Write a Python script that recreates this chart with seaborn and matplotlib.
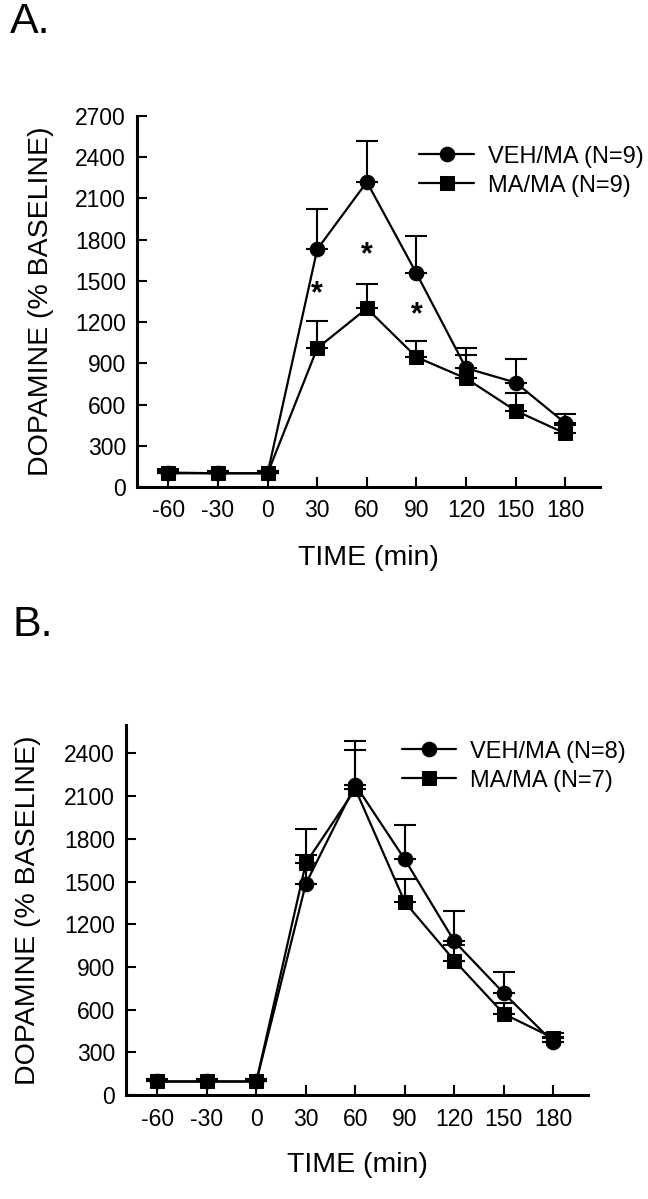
import numpy as np
import pandas as pd
import matplotlib
matplotlib.use("Agg")
import matplotlib.pyplot as plt
import seaborn as sns

# time points (min)
time = [-60, -30, 0, 30, 60, 90, 120, 150, 180]

# panel A
a_veh = [105, 100, 100, 1730, 2220, 1555, 865, 760, 465]
a_veh_sem = [25, 20, 20, 290, 300, 275, 145, 175, 65]
a_ma = [100, 100, 100, 1010, 1300, 945, 790, 555, 390]
a_ma_sem = [20, 20, 20, 200, 180, 120, 170, 130, 60]
a_labels = ["VEH/MA (N=9)", "MA/MA (N=9)"]
star_x = [30, 60, 90]
star_y = [1400, 1690, 1250]

# panel B
b_veh = [95, 95, 95, 1485, 2180, 1655, 1080, 715, 370]
b_veh_sem = [20, 20, 20, 200, 310, 245, 210, 150, 65]
b_ma = [95, 95, 95, 1630, 2150, 1355, 945, 570, 400]
b_ma_sem = [20, 20, 20, 240, 275, 160, 110, 75, 10]
b_labels = ["VEH/MA (N=8)", "MA/MA (N=7)"]

sns.set_style("ticks")
plt.rcParams['font.family'] = ['Liberation Sans', 'DejaVu Sans']
plt.rcParams['text.color'] = 'black'
plt.rcParams['axes.labelcolor'] = 'black'
plt.rcParams['xtick.color'] = 'black'
plt.rcParams['ytick.color'] = 'black'


def make_df(veh, veh_sem, ma, ma_sem, labels):
    rows = []
    for t, v, s in zip(time, veh, veh_sem):
        rows.append({'time': t, 'value': v, 'err': s, 'group': labels[0]})
    for t, v, s in zip(time, ma, ma_sem):
        rows.append({'time': t, 'value': v, 'err': s, 'group': labels[1]})
    return pd.DataFrame(rows)


def draw_panel(ax, df, labels, ylim, yticks, legend_anchor, ylabel_x):
    # error bars (upper only)
    for g in labels:
        d = df[df['group'] == g]
        ax.errorbar(d['time'].values, d['value'].values,
                    yerr=[np.zeros(len(d)), d['err'].values], fmt='none',
                    ecolor='black', elinewidth=1.5, capsize=8, capthick=1.5, zorder=2)
    sns.lineplot(data=df, x='time', y='value', hue='group', style='group',
                 markers={labels[0]: 'o', labels[1]: 's'}, dashes=False,
                 palette={labels[0]: 'black', labels[1]: 'black'},
                 linewidth=1.6, markersize=10.5, markeredgecolor='black',
                 ax=ax, zorder=3)
    ax.set_xlim(-79, 201)
    ax.set_ylim(*ylim)
    ax.set_xticks(time)
    ax.set_xticklabels([str(t) for t in time])
    ax.set_yticks(yticks)
    ax.tick_params(axis='both', direction='in', length=7, width=1.5,
                   labelsize=16.5, color='black', labelcolor='black')
    ax.tick_params(axis='x', pad=9)
    ax.tick_params(axis='y', pad=8)
    for sp in ['top', 'right']:
        ax.spines[sp].set_visible(False)
    for sp in ['left', 'bottom']:
        ax.spines[sp].set_linewidth(2.2)
        ax.spines[sp].set_color('black')
    ax.set_xlabel('TIME (min)', fontsize=20.5)
    ax.set_ylabel('DOPAMINE (% BASELINE)', fontsize=20.5)
    ax.xaxis.set_label_coords(0.5, -0.155)
    ax.yaxis.set_label_coords(ylabel_x, 0.5)
    handles, lbls = ax.get_legend_handles_labels()
    ax.legend(handles, lbls, loc='upper left', bbox_to_anchor=legend_anchor,
              frameon=False, fontsize=17, handlelength=2.3, handletextpad=0.6,
              labelspacing=0.3, borderpad=0, borderaxespad=0)


fig = plt.figure(figsize=(6.48, 11.99), dpi=100)
ax_a = fig.add_axes([137 / 648, 1 - 487 / 1199, 463 / 648, 371 / 1199])
ax_b = fig.add_axes([126 / 648, 1 - 1095 / 1199, 462 / 648, 370 / 1199])

df_a = make_df(a_veh, a_veh_sem, a_ma, a_ma_sem, a_labels)
df_b = make_df(b_veh, b_veh_sem, b_ma, b_ma_sem, b_labels)

draw_panel(ax_a, df_a, a_labels, (0, 2700), range(0, 2701, 300), (0.61, 0.92), -0.18)
draw_panel(ax_b, df_b, b_labels, (0, 2600), range(0, 2401, 300), (0.597, 0.958), -0.185)

for x, y in zip(star_x, star_y):
    ax_a.text(x, y, '*', ha='center', va='center', fontsize=22, fontweight='bold')

fig.text(10 / 648, 1 - 2 / 1199, 'A.', fontsize=31, va='top', ha='left')
fig.text(12 / 648, 1 - 605 / 1199, 'B.', fontsize=31, va='top', ha='left')

fig.savefig('out.png', dpi=100)
